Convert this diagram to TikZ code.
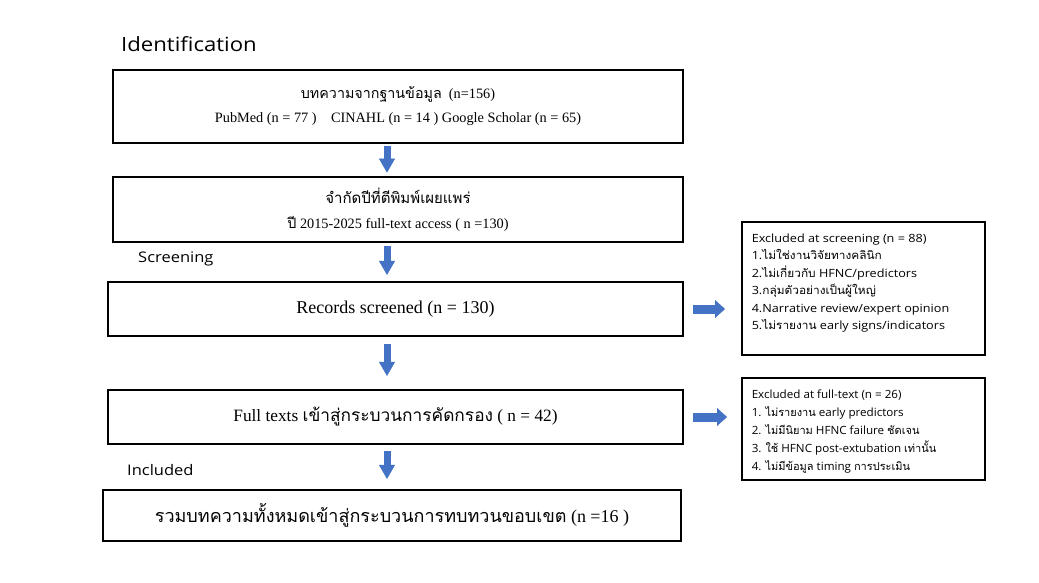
\documentclass[tikz,border=0pt]{standalone}
\usepackage{fontspec}
\setmainfont{Liberation Serif}
\newfontfamily\thaifont[Script=Thai]{Loma}
\newfontfamily\thaiwide[Script=Thai,FakeStretch=1.05]{Loma}
\newfontfamily\labelfont[FakeStretch=1.13]{Open Sans}
\newfontfamily\exfontA[FakeStretch=1.12]{Open Sans}
\newfontfamily\exfontB[FakeStretch=1.03]{Open Sans}
\usetikzlibrary{arrows.meta,calc}
\definecolor{arrowblue}{HTML}{4472C4}
\newcommand{\thx}[1]{{\thaifont #1}}
\newcommand{\thA}[1]{{\thaiwide #1}}
\newcommand{\thB}[1]{{\thaifont\fontsize{11}{18}\selectfont #1}}
\begin{document}
\begin{tikzpicture}[x=1pt,y=-1pt,
  mainbox/.style={draw=black, line width=2.2pt, align=center, inner sep=0pt},
  exbox/.style={draw=black, line width=1.5pt, inner sep=0pt, anchor=north west},
  stagelabel/.style={anchor=base west, inner sep=0pt, font=\labelfont},
  downarrow/.style={arrowblue, line width=7pt, -{Triangle[width=16pt,length=14pt,line width=0.4pt]}},
  rightarrow/.style={arrowblue, line width=9pt, -{Triangle[width=18pt,length=10pt,line width=0.4pt]}}]
\useasboundingbox (0,0) rectangle (1039,582);
\fill[white] (0,0) rectangle (1039,582);

\node[stagelabel, font=\labelfont\fontsize{19.6}{24}\selectfont] (lid) at (121,51) {Identification};
\node[stagelabel, font=\labelfont\fontsize{14.6}{18}\selectfont] (lsc) at (138,262) {Screening};
\node[stagelabel, font=\labelfont\fontsize{14.6}{18}\selectfont] (lin) at (127,475) {Included};

\node[mainbox, line width=2.8pt, minimum width=570pt, minimum height=73pt,
      font=\fontsize{14.3}{24}\selectfont] (b1) at (398,106.5)
  {\thx{บทความจากฐานข้อมูล}\ \ (n=156)\\
   PubMed (n = 77 )\ \ \ \ CINAHL (n = 14 ) Google Scholar (n = 65)};
\node[mainbox, line width=2.8pt, minimum width=570pt, minimum height=65pt,
      font=\fontsize{14.3}{25}\selectfont] (b2) at (398,209.5)
  {{\thaifont\fontsize{15}{25}\selectfont จำกัดปีที่ตีพิมพ์เผยแพร่}\\
   \thx{ปี} 2015-2025 full-text access ( n =130)};
\node[mainbox, minimum width=575pt, minimum height=54pt,
      font=\fontsize{18}{20}\selectfont] (b3) at (395.5,309)
  {Records screened (n = 130)};
\node[mainbox, minimum width=575pt, minimum height=54pt,
      font=\fontsize{17.3}{20}\selectfont] (b4) at (395.5,417)
  {Full texts \thx{เข้าสู่กระบวนการคัดกรอง} ( n = 42)};
\node[mainbox, minimum width=578pt, minimum height=51pt,
      font=\fontsize{18}{20}\selectfont] (b5) at (392,515.5)
  {\thx{รวมบทความทั้งหมดเข้าสู่กระบวนการทบทวนขอบเขต} (n =16 )};

\node[exbox] (e1) at (741,221)
  {\parbox[c][133pt][t]{243pt}{\exfontA\fontsize{11.3}{17.5}\selectfont\raggedright
   \vspace*{12pt}\leftskip=10pt
   Excluded at screening (n = 88)\\
   1.\thA{ไม่ใช่งานวิจัยทางคลินิก}\\
   2.\thA{ไม่เกี่ยวกับ} HFNC/predictors\\
   3.\thA{กลุ่มตัวอย่างเป็นผู้ใหญ่}\\
   4.Narrative review/expert opinion\\
   5.\thA{ไม่รายงาน} early signs/indicators}};
\node[exbox] (e2) at (741,377)
  {\parbox[c][102pt][t]{243pt}{\exfontB\fontsize{11.3}{18}\selectfont\raggedright
   \vspace*{12pt}\leftskip=10pt
   Excluded at full-text (n = 26)\\
   1. \thB{ไม่รายงาน} early predictors\\
   2. \thB{ไม่มีนิยาม} HFNC failure \thB{ชัดเจน}\\
   3. \thB{ใช้} HFNC post-extubation \thB{เท่านั้น}\\
   4. \thB{ไม่มีข้อมูล} timing \thB{การประเมิน}}};

\draw[downarrow] ($(b1.south)+(-11,2)$) -- ($(b2.north)+(-11,-3)$);
\draw[downarrow] ($(b2.south)+(-11,3)$) -- ($(b3.north)+(-8.5,-6)$);
\draw[downarrow] ($(b3.south)+(-8.5,7)$) -- ($(b4.north)+(-8.5,-13)$);
\draw[downarrow] ($(b4.south)+(-8.5,6)$) -- ($(b5.north)+(-5,-10)$);
\draw[rightarrow] ($(b3.east)+(9,0)$) -- ($(b3.east -| e1.west)+(-16,0)$);
\draw[rightarrow] ($(b4.east)+(9,0)$) -- ($(b4.east -| e2.west)+(-14,0)$);
\end{tikzpicture}
\end{document}
